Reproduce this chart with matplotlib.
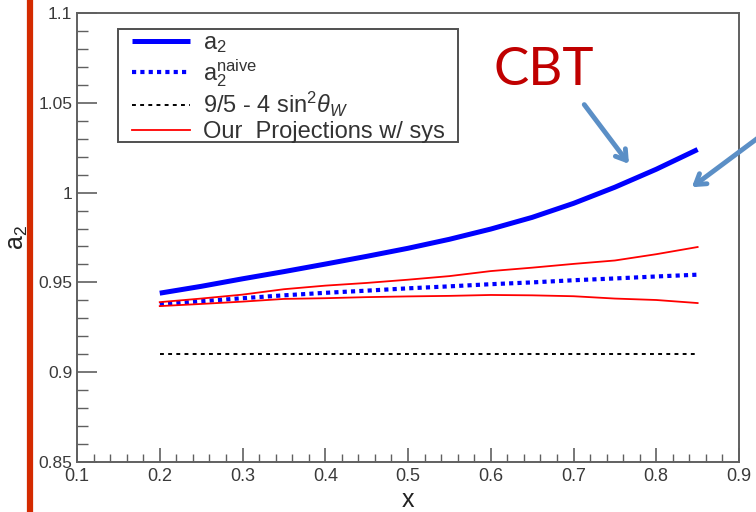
import matplotlib
matplotlib.use("Agg")
import matplotlib.pyplot as plt
from matplotlib.lines import Line2D
from matplotlib.patches import Rectangle
from matplotlib.ticker import MultipleLocator, FixedLocator

plt.rcParams['font.family'] = ['Liberation Sans', 'DejaVu Sans']
plt.rcParams['mathtext.fontset'] = 'custom'
plt.rcParams['mathtext.rm'] = 'Liberation Sans'
plt.rcParams['mathtext.it'] = 'Liberation Sans:italic'
plt.rcParams['mathtext.bf'] = 'Liberation Sans:bold'

# ---- data ----
x_vals = [0.20, 0.25, 0.30, 0.35, 0.40, 0.45, 0.50, 0.55, 0.60, 0.65, 0.70, 0.75, 0.80, 0.85]
a2 = [0.9440, 0.9478, 0.9520, 0.9560, 0.9602, 0.9645, 0.9690, 0.9740, 0.9797, 0.9862,
      0.9940, 1.0030, 1.0130, 1.0240]
a2_naive = [0.9378, 0.9395, 0.9412, 0.9428, 0.9442, 0.9454, 0.9467, 0.9478, 0.9490, 0.9500,
            0.9512, 0.9522, 0.9533, 0.9543]
proj_upper = [0.9390, 0.9410, 0.9432, 0.9462, 0.9482, 0.9497, 0.9515, 0.9535, 0.9563, 0.9582,
              0.9603, 0.9622, 0.9657, 0.9697]
proj_lower = [0.9368, 0.9380, 0.9393, 0.9408, 0.9412, 0.9418, 0.9422, 0.9425, 0.9430, 0.9428,
              0.9423, 0.9410, 0.9402, 0.9385]
sw_const = [0.91] * len(x_vals)

x_ticks = [0.1, 0.2, 0.3, 0.4, 0.5, 0.6, 0.7, 0.8, 0.9]
x_ticklabels = ['0.1', '0.2', '0.3', '0.4', '0.5', '0.6', '0.7', '0.8', '0.9']
y_ticks = [0.85, 0.9, 0.95, 1.0, 1.05, 1.1]
y_ticklabels = ['0.85', '0.9', '0.95', '1', '1.05', '1.1']

labels = [r'a$_2$', r'a$_2^{\rm naive}$', r'9/5 - 4 sin$^2\theta_W$', 'Our  Projections w/ sys']

# ---- figure ----
W, H = 756, 512
fig = plt.figure(figsize=(W / 100, H / 100), dpi=100)
ax = fig.add_axes([77 / W, (H - 462) / H, (739 - 77) / W, (462 - 13) / H])

l1, = ax.plot(x_vals, a2, color='#0000ff', lw=3.6, solid_capstyle='butt')
l2, = ax.plot(x_vals, a2_naive, color='#0000ff', lw=3.0, linestyle=(0, (1, 1)),
              dash_capstyle='butt')
l3, = ax.plot(x_vals, sw_const, color='black', lw=1.4, linestyle=(0, (2, 2.2)),
              dash_capstyle='butt')
l4, = ax.plot(x_vals, proj_upper, color='#ff0000', lw=1.3)
ax.plot(x_vals, proj_lower, color='#ff0000', lw=1.3)

ax.set_xlim(0.1, 0.9)
ax.set_ylim(0.85, 1.1)
ax.xaxis.set_major_locator(FixedLocator(x_ticks))
ax.set_xticklabels(x_ticklabels)
ax.yaxis.set_major_locator(FixedLocator(y_ticks))
ax.set_yticklabels(y_ticklabels)
ax.xaxis.set_minor_locator(MultipleLocator(0.02))
ax.yaxis.set_minor_locator(MultipleLocator(0.01))

spine_col = '#606060'
for s in ax.spines.values():
    s.set_color(spine_col)
    s.set_linewidth(1.4)

ax.tick_params(axis='both', which='both', direction='in', color=spine_col,
               labelcolor='#3a3a3a', top=False, right=False)
ax.tick_params(axis='x', which='major', length=10, width=1.2, labelsize=13, pad=4)
ax.tick_params(axis='x', which='minor', length=5.5, width=1.0)
ax.tick_params(axis='y', which='major', length=14.5, width=1.2, labelsize=12.5, pad=3.5)
ax.tick_params(axis='y', which='minor', length=8, width=1.0)

ax.set_xlabel('x', fontsize=18, color='#222222', labelpad=2.5)
ax.set_ylabel(r'a$_2$', fontsize=18, color='#222222', labelpad=6)

# legend (frame drawn separately)
ax.add_patch(Rectangle((0.0619, 0.7127), 0.5136, 0.2517, transform=ax.transAxes,
                       facecolor='white', edgecolor='#505050', lw=1.4, zorder=4))
leg = ax.legend([l1, l2, l3, l4], labels, loc='upper left',
                bbox_to_anchor=(0.0831, 0.957), fontsize=17, frameon=False,
                borderaxespad=0, borderpad=0, handlelength=2.45,
                handletextpad=0.55, labelspacing=0.07)
leg.set_zorder(5)
for t in leg.get_texts():
    t.set_color('#333333')

# annotations
fig.text(493 / W, 1 - 85 / H, 'CBT', fontsize=38, color='#c00000',
         family=['Lato', 'DejaVu Sans'], va='baseline', ha='left')

arrow_col = '#5b8fc6'
ax.annotate('', xy=(0.767, 1.016), xytext=(0.713, 1.049),
            arrowprops=dict(arrowstyle='->,head_length=0.7,head_width=0.45',
                            color=arrow_col, lw=3.5, shrinkA=0, shrinkB=0),
            annotation_clip=False)
ax.annotate('', xy=(0.843, 1.003), xytext=(0.945, 1.038),
            arrowprops=dict(arrowstyle='->,head_length=0.7,head_width=0.45',
                            color=arrow_col, lw=3.5, shrinkA=0, shrinkB=0),
            annotation_clip=False)

# red vertical bar on the left
fig.add_artist(Line2D([30 / W, 30 / W], [0, 1], transform=fig.transFigure,
                      color='#d42a00', lw=4.5, zorder=10))

fig.savefig('out.png', dpi=100)
